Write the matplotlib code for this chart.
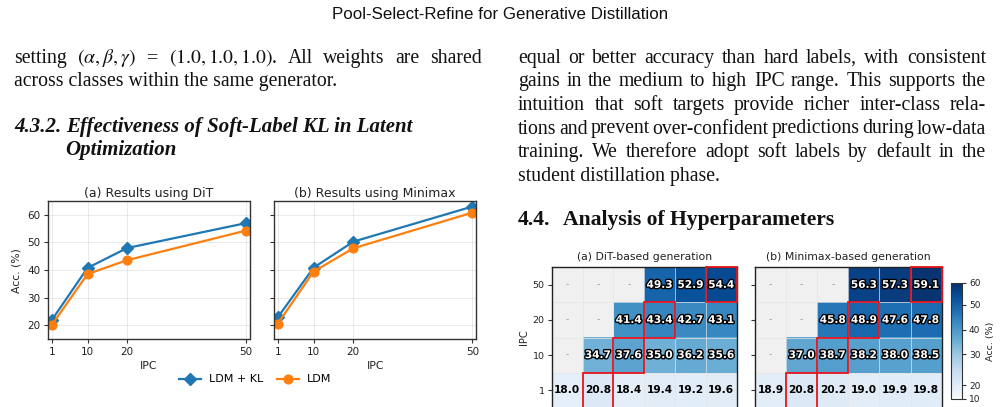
import numpy as np
import matplotlib
matplotlib.use("Agg")
import matplotlib.pyplot as plt
import matplotlib.colors as mcolors
import matplotlib.patheffects as pe
from matplotlib.patches import Rectangle

plt.rcParams['mathtext.fontset'] = 'stix'

# ---------------- data ----------------
ipc = [1, 10, 20, 50]
dit_ldm_kl = [22.0, 40.8, 48.0, 57.0]
dit_ldm = [20.2, 38.6, 43.6, 54.3]
mmx_ldm_kl = [23.0, 40.9, 50.3, 63.0]
mmx_ldm = [20.7, 39.5, 47.9, 60.8]

heat_ipc = ['50', '20', '10', '1']
nan = np.nan
dit_heat = [[nan, nan, nan, 49.3, 52.9, 54.4],
            [nan, nan, 41.4, 43.4, 42.7, 43.1],
            [nan, 34.7, 37.6, 35.0, 36.2, 35.6],
            [18.0, 20.8, 18.4, 19.4, 19.2, 19.6]]
mmx_heat = [[nan, nan, nan, 56.3, 57.3, 59.1],
            [nan, nan, 45.8, 48.9, 47.6, 47.8],
            [nan, 37.0, 38.7, 38.2, 38.0, 38.5],
            [18.9, 20.8, 20.2, 19.0, 19.9, 19.8]]
best_col = [5, 3, 2, 1]   # red boxed cell in each row

cbar_ticks = [10, 20, 30, 40, 50, 60]
cbar_pos = [0.0, 0.117, 0.383, 0.598, 0.813, 1.0]   # tick spots along the colour bar

# ---------------- page ----------------
W, H = 1000, 407
fig = plt.figure(figsize=(W / 100, H / 100), dpi=100)
fig.patch.set_facecolor('white')
R = fig.canvas.get_renderer()


def fx(x):
    return x / W


def fy(y):
    return 1 - y / H


def put_line(text, x0, y, x1=None, **kw):
    # x1 given -> justify the words between x0 and x1
    if x1 is None:
        fig.text(fx(x0), fy(y), text, va='baseline', **kw)
        return
    words = text.split(' ')
    ts = [fig.text(0, fy(y), w, va='baseline', **kw) for w in words]
    ws = [t.get_window_extent(R).width for t in ts]
    gap = (x1 - x0 - sum(ws)) / (len(ts) - 1)
    x = x0
    for t, w in zip(ts, ws):
        t.set_x(fx(x))
        x += w + gap


body = dict(family='Liberation Serif', size=14.2, color='#111111')
head_bi = dict(family='Liberation Serif', size=15, weight='bold', style='italic', color='#111111')
head_b = dict(family='Liberation Serif', size=15.6, weight='bold', color='#111111')

fig.text(0.5, fy(19), 'Pool-Select-Refine for Generative Distillation', ha='center', va='baseline',
         family=['Liberation Sans Narrow', 'Liberation Sans'], size=12.2, color='#111111')

lb, rb = 14, 482
put_line(r'setting $(\alpha,\beta,\gamma)$ = $(1.0,1.0,1.0)$. All weights are shared', lb, 62.7, rb, **body)
put_line('across classes within the same generator.', lb, 85.7, **body)
put_line('4.3.2.', lb, 131.7, **head_bi)
put_line('Effectiveness of Soft-Label KL in Latent', 65.7, 131.7, **head_bi)
put_line('Optimization', 65.7, 155, **head_bi)

rl, rr = 518, 986
right_lines = ['equal or better accuracy than hard labels, with consistent',
               'gains in the medium to high IPC range. This supports the',
               'intuition that soft targets provide richer inter-class rela-',
               'tions and prevent over-confident predictions during low-data',
               'training. We therefore adopt soft labels by default in the']
for k, s in enumerate(right_lines):
    put_line(s, rl, 62.7 + 23.6 * k, rr, **body)
put_line('student distillation phase.', rl, 62.7 + 23.6 * 5, **body)
put_line('4.4.', rl, 224.5, **head_b)
put_line('Analysis of Hyperparameters', 562.7, 224.5, **head_b)

# ---------------- line charts ----------------
dark = '#333333'
axA = fig.add_axes([fx(48.3), fy(339.3), (249.5 - 48.3) / W, (339.3 - 201) / H])
axB = fig.add_axes([fx(274.3), fy(339.3), (476 - 274.3) / W, (339.3 - 201) / H], sharey=axA)
for ax, kl, ldm, title in [(axA, dit_ldm_kl, dit_ldm, '(a) Results using DiT'),
                           (axB, mmx_ldm_kl, mmx_ldm, '(b) Results using Minimax')]:
    ax.plot(ipc, kl, marker='D', color='#1f77b4', lw=1.6, ms=6, label='LDM + KL')
    ax.plot(ipc, ldm, marker='o', color='#ff7f0e', lw=1.6, ms=6.3, label='LDM')
    ax.set_xticks(ipc)
    ax.set_xlim(0.1, 50.9)
    ax.set_ylim(15, 65)
    ax.set_yticks([20, 30, 40, 50, 60])
    ax.grid(True, color='#b0b0b0', lw=0.6, alpha=0.3)
    ax.set_title(title, fontsize=9, pad=3, color='#222222')
    ax.set_xlabel('IPC', fontsize=7.8, labelpad=3, color='#222222')
    ax.tick_params(labelsize=7.5, length=3, width=0.8, color=dark, labelcolor='#222222', pad=2.5)
    for s in ax.spines.values():
        s.set_color(dark)
        s.set_linewidth(1)
axA.set_ylabel('Acc. (%)', fontsize=7.8, color='#222222', labelpad=4)
axB.tick_params(labelleft=False)
h, l = axA.get_legend_handles_labels()
fig.legend(h, l, loc='center', bbox_to_anchor=(fx(255), fy(379.5)), ncol=2, frameon=False,
           fontsize=8, columnspacing=1.2, handletextpad=0.7, borderaxespad=0)

# ---------------- heatmaps ----------------
norm = mcolors.FuncNorm((lambda v: np.interp(v, cbar_ticks, cbar_pos),
                         lambda u: np.interp(u, cbar_pos, cbar_ticks)), vmin=10, vmax=60)
cmap = plt.get_cmap('Blues').copy()
cmap.set_bad('#f0f0f0')

hmA = fig.add_axes([fx(551.7), fy(407.7), 185 / W, 140.4 / H])
hmB = fig.add_axes([fx(755), fy(407.7), 186.7 / W, 140.4 / H])
for ax, grid, title in [(hmA, dit_heat, '(a) DiT-based generation'),
                        (hmB, mmx_heat, '(b) Minimax-based generation')]:
    data = np.ma.masked_invalid(np.array(grid))
    im = ax.imshow(data, cmap=cmap, norm=norm, aspect='auto')
    nr, nc = data.shape
    ax.set_xticks(np.arange(nc + 1) - 0.5, minor=True)
    ax.set_yticks(np.arange(nr + 1) - 0.5, minor=True)
    ax.grid(which='minor', color='#e4e4e4', lw=0.5)
    ax.tick_params(which='minor', length=0)
    ax.set_xticks([])
    ax.set_yticks(range(nr), heat_ipc)
    ax.tick_params(axis='y', labelsize=6.8, length=3, width=0.8, color=dark, labelcolor='#222222', pad=2)
    ax.set_title(title, fontsize=7.8, pad=5.5, color='#222222')
    for s in ax.spines.values():
        s.set_color('#222222')
        s.set_linewidth(1)
    for i, row in enumerate(grid):
        for j, v in enumerate(row):
            if np.isnan(v):
                ax.text(j, i, '-', ha='center', va='center', color='#9a9a9a', fontsize=6.5)
            elif v >= 30:
                ax.text(j, i, f'{v:.1f}', ha='center', va='center', color='white', fontsize=7.6,
                        weight='bold', path_effects=[pe.withStroke(linewidth=2, foreground='black')])
            else:
                ax.text(j, i, f'{v:.1f}', ha='center', va='center', color='black', fontsize=7.6,
                        weight='bold')
    for i, j in enumerate(best_col):
        ax.add_patch(Rectangle((j - 0.5, i - 0.5), 1, 1, fill=False, ec='#e8151b', lw=1.3,
                               zorder=5, clip_on=False))
hmA.set_ylabel('IPC', fontsize=7.2, color='#222222', labelpad=3)
hmB.tick_params(labelleft=False)

cax = fig.add_axes([fx(951), fy(398.7), 11 / W, 115.7 / H])
cb = fig.colorbar(im, cax=cax, ticks=cbar_ticks)
cb.set_label('Acc. (%)', fontsize=6.8, color='#222222')
cb.ax.tick_params(labelsize=6.5, length=3, width=0.8, color=dark, labelcolor='#222222', pad=2)
cb.outline.set_edgecolor(dark)

fig.savefig('out.png', dpi=100)
